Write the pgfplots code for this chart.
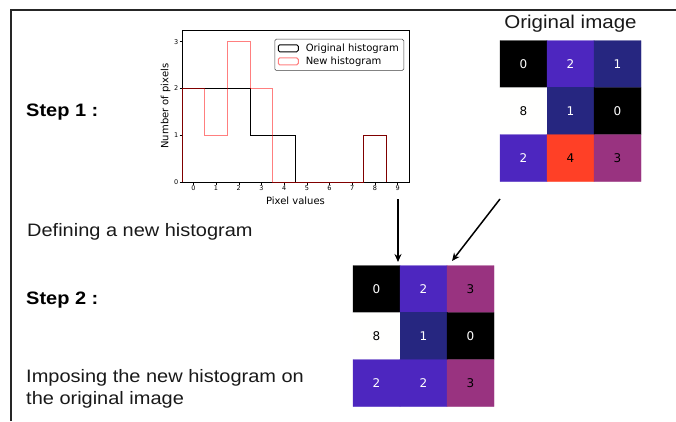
\documentclass[border=0pt]{standalone}
\usepackage{fontspec}
\setmainfont{Liberation Sans}
\newfontfamily\slide[FakeStretch=1.11]{Liberation Sans}
\newfontfamily\djv{DejaVu Sans}
\usepackage{pgfplots}
\pgfplotsset{compat=1.18}
\usetikzlibrary{arrows.meta}

\pgfplotsset{
  cmr/.style={colormap={cmr}{rgb255=(0,0,0) rgb255=(38,38,128) rgb255=(77,38,191) rgb255=(153,51,128) rgb255=(255,64,38) rgb255=(230,128,0) rgb255=(230,191,26) rgb255=(230,230,128) rgb255=(255,255,255)}},
  gridaxis/.style={scale only axis, width=141pt, height=141pt, hide axis,
    xmin=-0.5, xmax=2.5, ymin=-0.5, ymax=2.5, y dir=reverse,
    anchor=south west, cmr, point meta min=0, point meta max=8, clip=false},
  cellnum/.style={only marks, mark=*, mark size=0pt, mark options={draw=none, fill=none},
    nodes near coords, point meta=explicit symbolic,
    every node near coord/.append style={anchor=center, font=\djv\fontsize{12}{14}\selectfont, text=#1}},
  patchlegend/.style={legend image code/.code={\draw[##1] (0pt,-3.5pt) rectangle (20pt,3.5pt);}},
}

\begin{document}
\begin{tikzpicture}
\useasboundingbox (0pt,0pt) rectangle (676pt,421pt);

% frame
\draw[line width=1.6pt, black!85] (11pt,0pt) -- (11pt,411pt) -- (676pt,411pt);

% texts
\node[anchor=base west, inner sep=0, font=\slide\fontsize{18}{20}\selectfont\bfseries] at (26pt,305pt) {Step 1 :};
\node[anchor=base west, inner sep=0, font=\slide\fontsize{18}{20}\selectfont, text=black!90] at (27pt,184.3pt) {Defining a new histogram};
\node[anchor=base west, inner sep=0, font=\slide\fontsize{18}{20}\selectfont\bfseries] at (26pt,117pt) {Step 2 :};
\node[anchor=base west, inner sep=0, font=\slide\fontsize{18}{20}\selectfont, text=black!90] at (26pt,39pt) {Imposing the new histogram on};
\node[anchor=base west, inner sep=0, font=\slide\fontsize{18}{20}\selectfont, text=black!90] at (26pt,17pt) {the original image};

% histogram
\begin{axis}[
  at={(182pt,239pt)}, anchor=south west, scale only axis, width=227pt, height=152pt,
  xmin=-0.5, xmax=9.5, ymin=0, ymax=3.25,
  xtick={0,...,9}, ytick={0,1,2,3},
  xtick pos=bottom, ytick pos=left,
  tick align=outside, major tick length=2.5pt, tick style={black, line width=0.5pt},
  axis line style={line width=0.7pt},
  ticklabel style={font=\djv\fontsize{6.5}{7}\selectfont, inner sep=1pt},
  /pgf/number format/assume math mode=true,
  xlabel={Pixel values}, ylabel={Number of pixels},
  label style={font=\djv\fontsize{10}{12}\selectfont},
  xlabel style={at={(axis description cs:0.5,-0.145)}, anchor=base},
  ylabel style={at={(axis description cs:-0.0595,0.5)}, anchor=base},
  patchlegend,
  legend cell align=left,
  legend style={at={(axis description cs:0.978,0.941)}, anchor=north east,
    draw=black!75, line width=0.5pt, rounded corners=1.5pt,
    font=\djv\fontsize{10}{12}\selectfont, inner xsep=3pt, inner ysep=2.5pt, row sep=0pt,
    nodes={inner sep=2pt},
    /tikz/every odd column/.append style={column sep=5pt}},
  clip=false,
]
\addplot[const plot, black, line width=1pt] coordinates {(-0.5,0) (-0.5,2) (2.5,1) (4.5,0) (7.5,1) (8.5,0)};
\addlegendentry{Original histogram}
\addplot[const plot, red, draw opacity=0.5, line width=1pt] coordinates {(-0.5,0) (-0.5,2) (0.5,1) (1.5,3) (2.5,2) (3.5,0) (7.5,1) (8.5,0)};
\addlegendentry{New histogram}
\end{axis}

% original image
\begin{axis}[gridaxis, at={(500pt,239.5pt)}, title={Original image},
  title style={font=\slide\fontsize{18.5}{20}\selectfont, text=black!90, at={(axis description cs:0.5,1)}, anchor=base, yshift=6.5pt}]
\addplot[matrix plot*, mesh/cols=3, mesh/rows=3, point meta=explicit] table[meta=c] {
x y c
0 0 0
1 0 2
2 0 1
0 1 8
1 1 1
2 1 0
0 2 2
1 2 4
2 2 3
};
\addplot[cellnum=white] table[meta=c] {
x y c
0 0 0
1 0 2
2 0 1
1 1 1
2 1 0
0 2 2
};
\addplot[cellnum=black] table[meta=c] {
x y c
0 1 8
1 2 4
2 2 3
};
\end{axis}

% new image
\begin{axis}[gridaxis, at={(353pt,14.5pt)}]
\addplot[matrix plot*, mesh/cols=3, mesh/rows=3, point meta=explicit] table[meta=c] {
x y c
0 0 0
1 0 2
2 0 3
0 1 8
1 1 1
2 1 0
0 2 2
1 2 2
2 2 3
};
\addplot[cellnum=white] table[meta=c] {
x y c
0 0 0
1 0 2
1 1 1
2 1 0
0 2 2
1 2 2
};
\addplot[cellnum=black] table[meta=c] {
x y c
2 0 3
0 1 8
2 2 3
};
\end{axis}

% arrows
\draw[line width=1.5pt, -{Stealth[length=8pt, width=7pt]}] (398pt,222pt) -- (398pt,159pt);
\draw[line width=1.5pt, -{Stealth[length=8pt, width=7pt]}] (500pt,222pt) -- (452pt,160pt);
\end{tikzpicture}
\end{document}
